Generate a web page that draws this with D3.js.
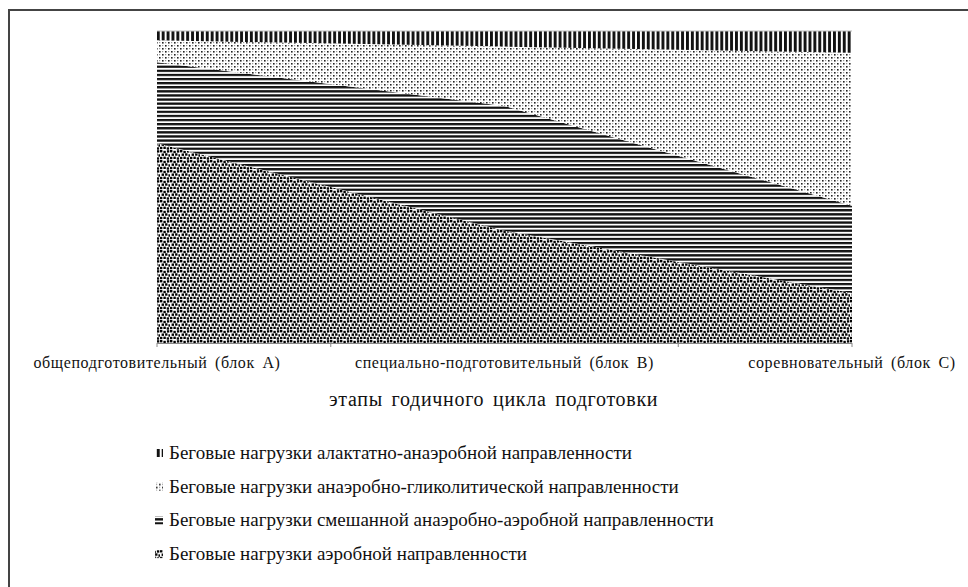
<!DOCTYPE html>
<html lang="ru">
<head>
  <meta charset="UTF-8">
  <title>Этапы годичного цикла подготовки</title>
  <script src="https://d3js.org/d3.v7.min.js"></script>
  <style>
    body {
      margin: 0;
      padding: 0;
      background: #fff;
    }
    svg text {
      fill: #111;
      font-family: "Liberation Serif", "DejaVu Serif", serif;
    }
  </style>
</head>
<body>
  <div id="chart"></div>

  <script>
    // categories (stages of the annual cycle)
    const categories = [
      "общеподготовительный (блок А)",
      "специально-подготовительный (блок В)",
      "соревновательный (блок С)"
    ];

    // shares in % (100% stacked)
    const aerobic    = [64, 36, 16];
    const mixed      = [26, 40, 28];
    const glycolytic = [7, 19, 49];
    const alactate   = [3, 5, 7];

    const seriesKeys = ["aerobic", "mixed", "glycolytic", "alactate"];
    const seriesNames = {
      alactate:   "Беговые нагрузки алактатно-анаэробной направленности",
      glycolytic: "Беговые нагрузки анаэробно-гликолитической направленности",
      mixed:      "Беговые нагрузки смешанной анаэробно-аэробной направленности",
      aerobic:    "Беговые нагрузки аэробной направленности"
    };
    const legendOrder = ["alactate", "glycolytic", "mixed", "aerobic"];
    const axisTitle = "этапы годичного цикла подготовки";

    const data = categories.map((c, i) => ({
      cat: c,
      aerobic: aerobic[i],
      mixed: mixed[i],
      glycolytic: glycolytic[i],
      alactate: alactate[i]
    }));

    const W = 968, H = 587;
    const plot = { left: 157, right: 852, top: 31, bottom: 343 };

    const svg = d3.select("#chart").append("svg")
      .attr("width", W)
      .attr("height", H)
      .attr("font-family", "Liberation Serif, serif");

    // ---- fill patterns ----
    const defs = svg.append("defs");

    const pVert = defs.append("pattern")
      .attr("id", "p-alactate").attr("patternUnits", "userSpaceOnUse")
      .attr("width", 4.9).attr("height", 10);
    pVert.append("rect").attr("width", 4.9).attr("height", 10).attr("fill", "#fff");
    pVert.append("rect").attr("width", 2.9).attr("height", 10).attr("fill", "#111");

    const pGly = defs.append("pattern")
      .attr("id", "p-glycolytic").attr("patternUnits", "userSpaceOnUse")
      .attr("width", 6).attr("height", 6);
    pGly.append("rect").attr("width", 6).attr("height", 6).attr("fill", "#fff");
    [[0, 0], [3, 3]].forEach(p => pGly.append("rect")
      .attr("x", p[0]).attr("y", p[1]).attr("width", 1.6).attr("height", 1.6).attr("fill", "#222"));
    [[3, 0], [0, 3]].forEach(p => pGly.append("rect")
      .attr("x", p[0]).attr("y", p[1]).attr("width", 1.2).attr("height", 1.2).attr("fill", "#999"));

    const pHor = defs.append("pattern")
      .attr("id", "p-mixed").attr("patternUnits", "userSpaceOnUse")
      .attr("width", 10).attr("height", 4.1);
    pHor.append("rect").attr("width", 10).attr("height", 4.1).attr("fill", "#fff");
    pHor.append("rect").attr("width", 10).attr("height", 2.3).attr("fill", "#111");

    const pAer = defs.append("pattern")
      .attr("id", "p-aerobic").attr("patternUnits", "userSpaceOnUse")
      .attr("width", 10).attr("height", 10);
    pAer.append("rect").attr("width", 10).attr("height", 10).attr("fill", "#fff");
    [[0, 0], [3.4, 0.8], [6.9, 0.2], [1.6, 3.5], [5.1, 3.3], [8.4, 4.3], [0, 6.8], [3.4, 6.6], [6.7, 7.3]]
      .forEach(p => pAer.append("rect")
        .attr("x", p[0]).attr("y", p[1]).attr("width", 2.4).attr("height", 2.4).attr("fill", "#000"));

    const fillFor = k => "url(#p-" + k + ")";

    // ---- frame (top and left edges) ----
    svg.append("line").attr("x1", 9).attr("x2", W).attr("y1", 10).attr("y2", 10)
      .attr("stroke", "#444").attr("stroke-width", 2);
    svg.append("line").attr("x1", 9).attr("x2", 9).attr("y1", 9).attr("y2", H)
      .attr("stroke", "#444").attr("stroke-width", 2);

    // ---- scales ----
    const x = d3.scalePoint().domain(categories).range([plot.left, plot.right]);
    const y = d3.scaleLinear().domain([0, 100]).range([plot.bottom, plot.top]);

    const stack = d3.stack().keys(seriesKeys);
    const layers = stack(data);

    const area = d3.area()
      .x(d => x(d.data.cat))
      .y0(d => y(d[0]))
      .y1(d => y(d[1]));

    svg.append("g").selectAll("path")
      .data(layers)
      .join("path")
      .attr("d", area)
      .attr("fill", d => fillFor(d.key));

    // top edge of plot
    svg.append("line")
      .attr("x1", plot.left).attr("x2", plot.right)
      .attr("y1", plot.top).attr("y2", plot.top)
      .attr("stroke", "#bbb").attr("stroke-width", 1);

    // ---- x axis ----
    const tickPos = [plot.left];
    for (let i = 0; i < categories.length - 1; i++) {
      tickPos.push((x(categories[i]) + x(categories[i + 1])) / 2);
    }
    tickPos.push(plot.right);

    const axis = svg.append("g");
    axis.append("line")
      .attr("x1", plot.left).attr("x2", plot.right)
      .attr("y1", plot.bottom + 0.5).attr("y2", plot.bottom + 0.5)
      .attr("stroke", "#888");
    axis.selectAll(".tick")
      .data(tickPos)
      .join("line")
      .attr("class", "tick")
      .attr("x1", d => d).attr("x2", d => d)
      .attr("y1", plot.bottom).attr("y2", plot.bottom + 4)
      .attr("stroke", "#888");

    axis.selectAll(".cat")
      .data(categories)
      .join("text")
      .attr("class", "cat")
      .attr("x", d => x(d))
      .attr("y", 368)
      .attr("text-anchor", "middle")
      .style("font-size", "16px")
      .style("letter-spacing", "0.6px")
      .style("word-spacing", "3px")
      .text(d => d);

    svg.append("text")
      .attr("x", 329)
      .attr("y", 406)
      .style("font-size", "20px")
      .style("letter-spacing", "0.7px")
      .style("word-spacing", "3px")
      .text(axisTitle);

    // ---- legend ----
    const legend = svg.append("g")
      .selectAll("g")
      .data(legendOrder)
      .join("g")
      .attr("transform", (d, i) => "translate(0," + (459 + i * 33.7) + ")");

    legend.append("rect")
      .attr("x", 155)
      .attr("y", -10)
      .attr("width", 8)
      .attr("height", 8)
      .attr("fill", d => fillFor(d));

    legend.append("text")
      .attr("x", 169)
      .attr("y", 0)
      .style("font-size", "19px")
      .text(d => seriesNames[d]);
  </script>
</body>
</html>
